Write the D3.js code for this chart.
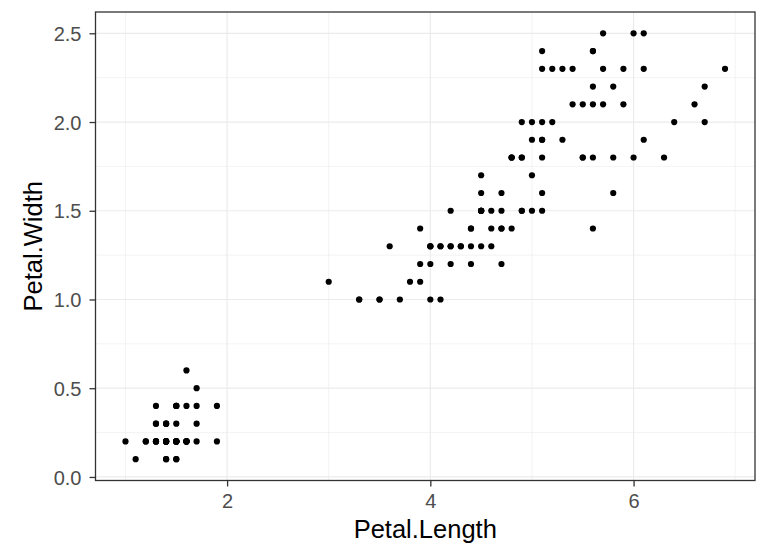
<!DOCTYPE html>
<html>
<head>
<meta charset="utf-8">
<script src="https://cdn.jsdelivr.net/npm/d3@7"></script>
<style>
  body { margin: 0; background: #fff; }
  text { font-family: "Liberation Sans", Arial, sans-serif; }
</style>
</head>
<body>
<div id="chart"></div>
<script>
// iris petal measurements
var PETAL_LENGTH = [
  1.4, 1.4, 1.3, 1.5, 1.4, 1.7, 1.4, 1.5, 1.4, 1.5, 1.5, 1.6, 1.4, 1.1, 1.2, 1.5, 1.3, 1.4, 1.7, 1.5,
  1.7, 1.5, 1.0, 1.7, 1.9, 1.6, 1.6, 1.5, 1.4, 1.6, 1.6, 1.5, 1.5, 1.4, 1.5, 1.2, 1.3, 1.4, 1.3, 1.5,
  1.3, 1.3, 1.3, 1.6, 1.9, 1.4, 1.6, 1.4, 1.5, 1.4,
  4.7, 4.5, 4.9, 4.0, 4.6, 4.5, 4.7, 3.3, 4.6, 3.9, 3.5, 4.2, 4.0, 4.7, 3.6, 4.4, 4.5, 4.1, 4.5, 3.9,
  4.8, 4.0, 4.9, 4.7, 4.3, 4.4, 4.8, 5.0, 4.5, 3.5, 3.8, 3.7, 3.9, 5.1, 4.5, 4.5, 4.7, 4.4, 4.1, 4.0,
  4.4, 4.6, 4.0, 3.3, 4.2, 4.2, 4.2, 4.3, 3.0, 4.1,
  6.0, 5.1, 5.9, 5.6, 5.8, 6.6, 4.5, 6.3, 5.8, 6.1, 5.1, 5.3, 5.5, 5.0, 5.1, 5.3, 5.5, 6.7, 6.9, 5.0,
  5.7, 4.9, 6.7, 4.9, 5.7, 6.0, 4.8, 4.9, 5.6, 5.8, 6.1, 6.4, 5.6, 5.1, 5.6, 6.1, 5.6, 5.5, 4.8, 5.4,
  5.6, 5.1, 5.1, 5.9, 5.7, 5.2, 5.0, 5.2, 5.4, 5.1
];
var PETAL_WIDTH = [
  0.2, 0.2, 0.2, 0.2, 0.2, 0.4, 0.3, 0.2, 0.2, 0.1, 0.2, 0.2, 0.1, 0.1, 0.2, 0.4, 0.4, 0.3, 0.3, 0.3,
  0.2, 0.4, 0.2, 0.5, 0.2, 0.2, 0.4, 0.2, 0.2, 0.2, 0.2, 0.4, 0.1, 0.2, 0.2, 0.2, 0.2, 0.1, 0.2, 0.2,
  0.3, 0.3, 0.2, 0.6, 0.4, 0.3, 0.2, 0.2, 0.2, 0.2,
  1.4, 1.5, 1.5, 1.3, 1.5, 1.3, 1.6, 1.0, 1.3, 1.4, 1.0, 1.5, 1.0, 1.4, 1.3, 1.4, 1.5, 1.0, 1.5, 1.1,
  1.8, 1.3, 1.5, 1.2, 1.3, 1.4, 1.4, 1.7, 1.5, 1.0, 1.1, 1.0, 1.2, 1.6, 1.5, 1.6, 1.5, 1.3, 1.3, 1.3,
  1.2, 1.4, 1.2, 1.0, 1.3, 1.2, 1.3, 1.3, 1.1, 1.3,
  2.5, 1.9, 2.1, 1.8, 2.2, 2.1, 1.7, 1.8, 1.8, 2.5, 2.0, 1.9, 2.1, 2.0, 2.4, 2.3, 1.8, 2.2, 2.3, 1.5,
  2.3, 2.0, 2.0, 1.8, 2.1, 1.8, 1.8, 1.8, 2.1, 1.6, 1.9, 2.0, 2.2, 1.5, 1.4, 2.3, 2.4, 1.8, 1.8, 2.1,
  2.4, 2.3, 1.9, 2.3, 2.5, 2.3, 1.9, 2.0, 2.3, 1.8
];
var X_TICKS = [2, 4, 6];
var X_MINOR = [1, 3, 5, 7];
var Y_TICKS = [0, 0.5, 1, 1.5, 2, 2.5];
var Y_MINOR = [0.25, 0.75, 1.25, 1.75, 2.25];
var X_LABEL = "Petal.Length";
var Y_LABEL = "Petal.Width";

var width = 760;
var height = 548;
var margins = { top: 12, right: 5, bottom: 67.5, left: 95.5 };
var chartWidth = width - margins.left - margins.right;
var chartHeight = height - margins.top - margins.bottom;

var data = PETAL_LENGTH.map(function(d, i) {
  return { x: d, y: PETAL_WIDTH[i] };
});

// ggplot-style 5% expansion of the data range
var expand = function(ext) {
  var pad = (ext[1] - ext[0]) * 0.05;
  return [ext[0] - pad, ext[1] + pad];
};

var xScale = d3.scaleLinear()
  .domain(expand(d3.extent(PETAL_LENGTH)))
  .range([0, chartWidth]);
var yScale = d3.scaleLinear()
  .domain(expand(d3.extent(PETAL_WIDTH)))
  .range([chartHeight, 0]);

var svg = d3.select("#chart")
  .append("svg")
  .attr("width", width)
  .attr("height", height);

var chartElement = svg.append("g")
  .attr("transform", "translate(" + margins.left + "," + margins.top + ")");

// grid
var grid = chartElement.append("g").attr("class", "grid");
grid.selectAll(".xminor").data(X_MINOR.filter(function(d) {
    return xScale(d) > 0 && xScale(d) < chartWidth;
  }))
  .enter().append("line")
  .attr("x1", xScale).attr("x2", xScale)
  .attr("y1", 0).attr("y2", chartHeight)
  .attr("stroke", "#EBEBEB").attr("stroke-width", 0.6);
grid.selectAll(".yminor").data(Y_MINOR)
  .enter().append("line")
  .attr("y1", yScale).attr("y2", yScale)
  .attr("x1", 0).attr("x2", chartWidth)
  .attr("stroke", "#EBEBEB").attr("stroke-width", 0.6);
grid.selectAll(".xmajor").data(X_TICKS)
  .enter().append("line")
  .attr("x1", xScale).attr("x2", xScale)
  .attr("y1", 0).attr("y2", chartHeight)
  .attr("stroke", "#EBEBEB").attr("stroke-width", 1.2);
grid.selectAll(".ymajor").data(Y_TICKS)
  .enter().append("line")
  .attr("y1", yScale).attr("y2", yScale)
  .attr("x1", 0).attr("x2", chartWidth)
  .attr("stroke", "#EBEBEB").attr("stroke-width", 1.2);

// points
chartElement.append("g")
  .selectAll("circle")
  .data(data)
  .enter().append("circle")
  .attr("cx", function(d) { return xScale(d.x); })
  .attr("cy", function(d) { return yScale(d.y); })
  .attr("r", 3.1)
  .attr("fill", "#000");

// panel border
chartElement.append("rect")
  .attr("x", 0).attr("y", 0)
  .attr("width", chartWidth).attr("height", chartHeight)
  .attr("fill", "none")
  .attr("stroke", "#333333")
  .attr("stroke-width", 1.3);

// axes
var xAxis = d3.axisBottom(xScale)
  .tickValues(X_TICKS)
  .tickSize(6)
  .tickPadding(7)
  .tickFormat(d3.format("d"));
var yAxis = d3.axisLeft(yScale)
  .tickValues(Y_TICKS)
  .tickSize(6)
  .tickPadding(8)
  .tickFormat(d3.format(".1f"));

var xG = chartElement.append("g")
  .attr("transform", "translate(0," + chartHeight + ")")
  .call(xAxis);
var yG = chartElement.append("g").call(yAxis);

[xG, yG].forEach(function(g) {
  g.select(".domain").remove();
  g.selectAll(".tick line").attr("stroke", "#333333").attr("stroke-width", 1.3);
  g.selectAll(".tick text")
    .attr("fill", "#4D4D4D")
    .style("font-size", "20px")
    .style("font-family", "'Liberation Sans', Arial, sans-serif");
});
yG.selectAll(".tick text").attr("dy", "0.36em");

// axis titles
svg.append("text")
  .attr("x", margins.left + chartWidth / 2)
  .attr("y", 538)
  .attr("text-anchor", "middle")
  .style("font-size", "25.5px")
  .attr("fill", "#000")
  .text(X_LABEL);

svg.append("text")
  .attr("transform", "translate(42," + (margins.top + chartHeight / 2) + ") rotate(-90)")
  .attr("text-anchor", "middle")
  .style("font-size", "25.5px")
  .attr("fill", "#000")
  .text(Y_LABEL);
</script>
</body>
</html>
